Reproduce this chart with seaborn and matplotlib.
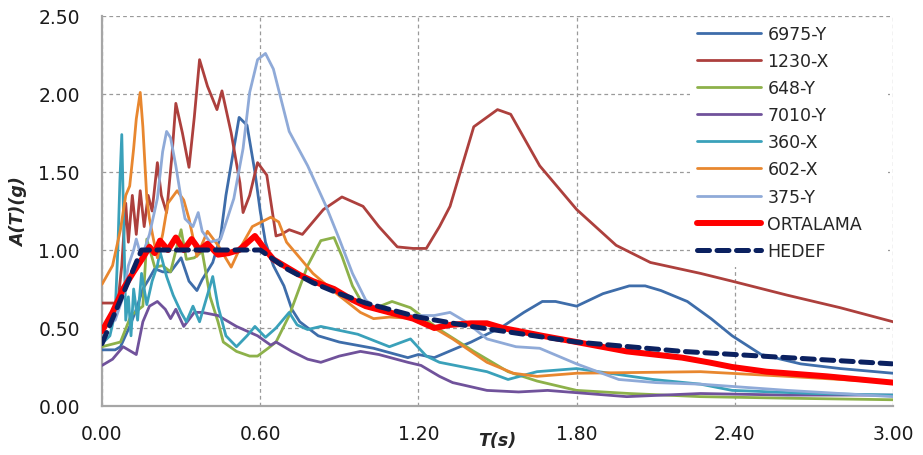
import matplotlib
matplotlib.use("Agg")
import matplotlib.pyplot as plt
import seaborn as sns
import pandas as pd

# ---------------- data ----------------
t_6975 = [0, 0.05, 0.07, 0.105, 0.13, 0.155, 0.18, 0.2, 0.23, 0.26, 0.3, 0.33, 0.36, 0.38, 0.42, 0.45,
          0.47, 0.49, 0.52, 0.55, 0.58, 0.60, 0.62, 0.65, 0.69, 0.72, 0.75, 0.82, 0.9, 1.03, 1.16, 1.2,
          1.26, 1.33, 1.40, 1.52, 1.6, 1.67, 1.72, 1.80, 1.90, 2.0, 2.06, 2.12, 2.22, 2.31, 2.39, 2.50,
          2.65, 2.8, 3.0]
a_6975 = [0.36, 0.36, 0.38, 0.51, 0.62, 0.75, 0.82, 0.88, 0.86, 0.86, 0.95, 0.80, 0.74, 0.81, 0.92, 1.09,
          1.35, 1.55, 1.85, 1.80, 1.50, 1.25, 1.05, 0.90, 0.77, 0.62, 0.54, 0.45, 0.41, 0.37, 0.31, 0.33,
          0.31, 0.36, 0.41, 0.51, 0.60, 0.67, 0.67, 0.64, 0.72, 0.77, 0.77, 0.74, 0.67, 0.56, 0.45, 0.33,
          0.27, 0.24, 0.21]

t_1230 = [0, 0.06, 0.075, 0.09, 0.1, 0.115, 0.13, 0.145, 0.16, 0.175, 0.19, 0.21, 0.225, 0.245, 0.265,
          0.28, 0.305, 0.33, 0.35, 0.37, 0.40, 0.436, 0.455, 0.49, 0.523, 0.535, 0.56, 0.59, 0.625, 0.66,
          0.68, 0.71, 0.76, 0.84, 0.91, 0.99, 1.05, 1.12, 1.18, 1.23, 1.28, 1.32, 1.41, 1.50, 1.55, 1.66,
          1.80, 1.95, 2.08, 2.27, 2.39, 2.6, 2.8, 3.0]
a_1230 = [0.66, 0.66, 0.90, 1.30, 1.05, 1.35, 1.10, 1.38, 1.15, 1.35, 1.25, 1.56, 1.35, 1.24, 1.60,
          1.94, 1.75, 1.53, 1.85, 2.22, 2.05, 1.90, 2.02, 1.75, 1.43, 1.24, 1.35, 1.56, 1.48, 1.09,
          1.10, 1.13, 1.10, 1.26, 1.34, 1.28, 1.15, 1.02, 1.01, 1.01, 1.15, 1.28, 1.79, 1.90, 1.87, 1.54,
          1.26, 1.03, 0.92, 0.85, 0.80, 0.71, 0.63, 0.54]

t_648 = [0, 0.07, 0.11, 0.155, 0.17, 0.2, 0.23, 0.26, 0.30, 0.32, 0.35, 0.38, 0.41, 0.44, 0.46, 0.51,
         0.56, 0.59, 0.63, 0.66, 0.71, 0.78, 0.83, 0.88, 0.91, 0.95, 0.99, 1.04, 1.1, 1.17, 1.28, 1.41,
         1.54, 1.65, 1.8, 2.0, 2.27, 2.6, 3.0]
a_648 = [0.38, 0.41, 0.58, 0.64, 1.07, 0.89, 0.90, 0.86, 1.13, 0.94, 0.95, 0.99, 0.70, 0.54, 0.41, 0.35,
         0.32, 0.32, 0.37, 0.41, 0.58, 0.90, 1.06, 1.08, 0.96, 0.77, 0.65, 0.63, 0.67, 0.63, 0.49, 0.35,
         0.22, 0.16, 0.10, 0.08, 0.06, 0.05, 0.04]

t_7010 = [0, 0.04, 0.08, 0.1, 0.13, 0.155, 0.18, 0.21, 0.24, 0.26, 0.28, 0.31, 0.35, 0.38, 0.44, 0.51,
          0.59, 0.64, 0.66, 0.72, 0.78, 0.83, 0.90, 0.98, 1.05, 1.16, 1.21, 1.28, 1.33, 1.46, 1.58, 1.69,
          1.84, 1.99, 2.27, 2.6, 3.0]
a_7010 = [0.26, 0.30, 0.38, 0.36, 0.33, 0.54, 0.64, 0.67, 0.62, 0.56, 0.62, 0.51, 0.60, 0.60, 0.58, 0.51,
          0.45, 0.39, 0.41, 0.35, 0.30, 0.28, 0.32, 0.35, 0.33, 0.28, 0.26, 0.19, 0.15, 0.10, 0.09, 0.10,
          0.08, 0.06, 0.08, 0.07, 0.07]

t_360 = [0, 0.03, 0.05, 0.06, 0.068, 0.075, 0.082, 0.09, 0.1, 0.11, 0.12, 0.135, 0.15, 0.17, 0.19, 0.21,
         0.22, 0.245, 0.27, 0.30, 0.32, 0.345, 0.37, 0.41, 0.42, 0.44, 0.47, 0.51, 0.55, 0.58, 0.62, 0.66,
         0.71, 0.74, 0.78, 0.83, 0.97, 1.09, 1.17, 1.23, 1.28, 1.37, 1.46, 1.54, 1.65, 1.80, 2.09, 2.27,
         2.39, 2.7, 3.0]
a_360 = [0.40, 0.45, 0.60, 1.00, 1.45, 1.74, 1.20, 0.55, 0.70, 0.45, 0.75, 0.55, 0.85, 0.65, 0.80, 0.90,
         0.99, 0.83, 0.71, 0.60, 0.54, 0.64, 0.54, 0.77, 0.83, 0.64, 0.45, 0.38, 0.45, 0.51, 0.44, 0.50,
         0.60, 0.52, 0.49, 0.51, 0.46, 0.38, 0.43, 0.32, 0.28, 0.25, 0.22, 0.17, 0.22, 0.24, 0.17, 0.14,
         0.10, 0.08, 0.07]

t_602 = [0, 0.04, 0.07, 0.09, 0.105, 0.12, 0.13, 0.145, 0.155, 0.17, 0.18, 0.195, 0.21, 0.23, 0.25,
         0.285, 0.31, 0.33, 0.36, 0.40, 0.44, 0.49, 0.52, 0.57, 0.64, 0.67, 0.70, 0.75, 0.80, 0.89, 0.98,
         1.03, 1.09, 1.2, 1.33, 1.46, 1.56, 1.65, 1.80, 2.27, 2.6, 3.0]
a_602 = [0.78, 0.90, 1.13, 1.35, 1.41, 1.65, 1.84, 2.01, 1.79, 1.33, 1.20, 1.07, 0.95, 1.10, 1.30,
         1.38, 1.32, 1.20, 0.96, 1.12, 1.03, 0.89, 1.00, 1.15, 1.21, 1.18, 1.05, 0.95, 0.85, 0.72, 0.60,
         0.56, 0.57, 0.56, 0.43, 0.28, 0.21, 0.19, 0.21, 0.22, 0.19, 0.15]

t_375 = [0, 0.05, 0.08, 0.1, 0.12, 0.13, 0.15, 0.18, 0.21, 0.23, 0.245, 0.26, 0.28, 0.30, 0.315, 0.345,
         0.365, 0.38, 0.41, 0.45, 0.50, 0.535, 0.56, 0.59, 0.62, 0.65, 0.71, 0.78, 0.85, 0.90, 0.95, 1.0,
         1.05, 1.17, 1.26, 1.32, 1.38, 1.46, 1.57, 1.66, 1.80, 1.96, 2.1, 2.27, 2.6, 3.0]
a_375 = [0.52, 0.55, 0.70, 0.90, 1.00, 1.07, 0.95, 1.10, 1.33, 1.63, 1.76, 1.72, 1.54, 1.33, 1.20, 1.15,
         1.24, 1.12, 1.05, 1.07, 1.33, 1.65, 2.01, 2.22, 2.26, 2.16, 1.76, 1.54, 1.28, 1.07, 0.85, 0.68,
         0.61, 0.58, 0.58, 0.60, 0.54, 0.43, 0.38, 0.37, 0.27, 0.17, 0.15, 0.14, 0.10, 0.06]

t_ort = [0, 0.04, 0.08, 0.12, 0.155, 0.18, 0.20, 0.22, 0.25, 0.28, 0.31, 0.34, 0.37, 0.40, 0.44, 0.48,
         0.52, 0.56, 0.58, 0.62, 0.65, 0.70, 0.75, 0.80, 0.88, 0.95, 1.0, 1.09, 1.18, 1.26, 1.32, 1.40,
         1.46, 1.52, 1.67, 1.80, 1.99, 2.2, 2.3, 2.39, 2.52, 2.75, 3.0]
a_ort = [0.48, 0.60, 0.75, 0.86, 0.95, 1.02, 0.98, 1.06, 1.00, 1.08, 1.00, 1.07, 1.00, 1.04, 0.97, 0.98,
         1.00, 1.06, 1.09, 1.00, 0.94, 0.89, 0.84, 0.80, 0.75, 0.68, 0.64, 0.60, 0.56, 0.50, 0.52, 0.53,
         0.53, 0.50, 0.45, 0.41, 0.35, 0.31, 0.28, 0.25, 0.22, 0.19, 0.15]

t_hedef = [0, 0.15, 0.6, 0.65, 0.7, 0.8, 0.9, 1.0, 1.2, 1.4, 1.6, 1.8, 2.0, 2.2, 2.4, 2.6, 2.8, 3.0]
a_hedef = [0.40, 1.00, 1.00, 0.94, 0.88, 0.79, 0.72, 0.66, 0.57, 0.51, 0.46, 0.41, 0.38, 0.35, 0.33,
           0.31, 0.29, 0.27]

labels = ["6975-Y", "1230-X", "648-Y", "7010-Y", "360-X", "602-X", "375-Y", "ORTALAMA", "HEDEF"]
x_ticks = [0.0, 0.6, 1.2, 1.8, 2.4, 3.0]
y_ticks = [0.0, 0.5, 1.0, 1.5, 2.0, 2.5]

# ---------------- styling ----------------
colors = ["#3E6DAA", "#AD403D", "#8DB14A", "#70529B", "#3AA1BA", "#E8872F", "#8FAAD8", "#FF0000", "#0B2160"]
widths = [2.0, 2.0, 2.0, 2.0, 2.0, 2.0, 2.0, 4.3, 3.6]

series = [(t_6975, a_6975), (t_1230, a_1230), (t_648, a_648), (t_7010, a_7010), (t_360, a_360),
          (t_602, a_602), (t_375, a_375), (t_ort, a_ort), (t_hedef, a_hedef)]

sns.set_style("white")
plt.rcParams["font.family"] = ["DejaVu Sans"]

fig = plt.figure(figsize=(9.23, 4.56), dpi=100)
ax = fig.add_axes([102 / 923, 1 - 407 / 456, 791 / 923, 390 / 456])

for i, ((tx, ay), lab) in enumerate(zip(series, labels)):
    df = pd.DataFrame({"T": tx, "A": ay})
    sns.lineplot(data=df, x="T", y="A", ax=ax, color=colors[i], linewidth=widths[i],
                 label=lab, sort=False, estimator=None, zorder=3 + i,
                 solid_capstyle="round", solid_joinstyle="round")
    line = ax.lines[-1]
    if lab == "HEDEF":
        line.set_dashes([2.4, 1.5])
        line.set_dash_capstyle("round")

ax.set_xlim(0, 3.0)
ax.set_ylim(0, 2.5)
ax.set_xticks(x_ticks)
ax.set_yticks(y_ticks)
ax.set_xticklabels([f"{v:.2f}" for v in x_ticks], fontsize=13.5, color="#1a1a1a")
ax.set_yticklabels([f"{v:.2f}" for v in y_ticks], fontsize=13.5, color="#1a1a1a")
ax.tick_params(axis="both", length=0)
ax.tick_params(axis="x", pad=13)
ax.tick_params(axis="y", pad=16)

ax.grid(True, color="#9a9a9a", linestyle=(0, (3, 2.5)), linewidth=0.9)
for s in ["top", "right"]:
    ax.spines[s].set_visible(False)
for s in ["left", "bottom"]:
    ax.spines[s].set_color("#a6a6a6")
    ax.spines[s].set_linewidth(1.6)

ax.set_xlabel("T(s)", fontsize=12.5, fontweight="bold", fontstyle="italic")
ax.set_ylabel("A(T)(g)", fontsize=12.5, fontweight="bold", fontstyle="italic")
ax.xaxis.set_label_coords(0.5, -0.063)
ax.yaxis.set_label_coords(-0.094, 0.5)

leg_x0 = (690 - 102) / 791
leg = ax.legend(loc="upper left", bbox_to_anchor=(leg_x0, 0.0, 0.994 - leg_x0, 0.995), mode="expand",
                borderaxespad=0.0, fontsize=12.5, frameon=True,
                facecolor="white", edgecolor="none", framealpha=1.0, fancybox=False,
                handlelength=3.7, handletextpad=0.35, labelspacing=0.525, borderpad=0.4)
leg.set_zorder(20)

fig.savefig("out.png", dpi=100, facecolor="white")
